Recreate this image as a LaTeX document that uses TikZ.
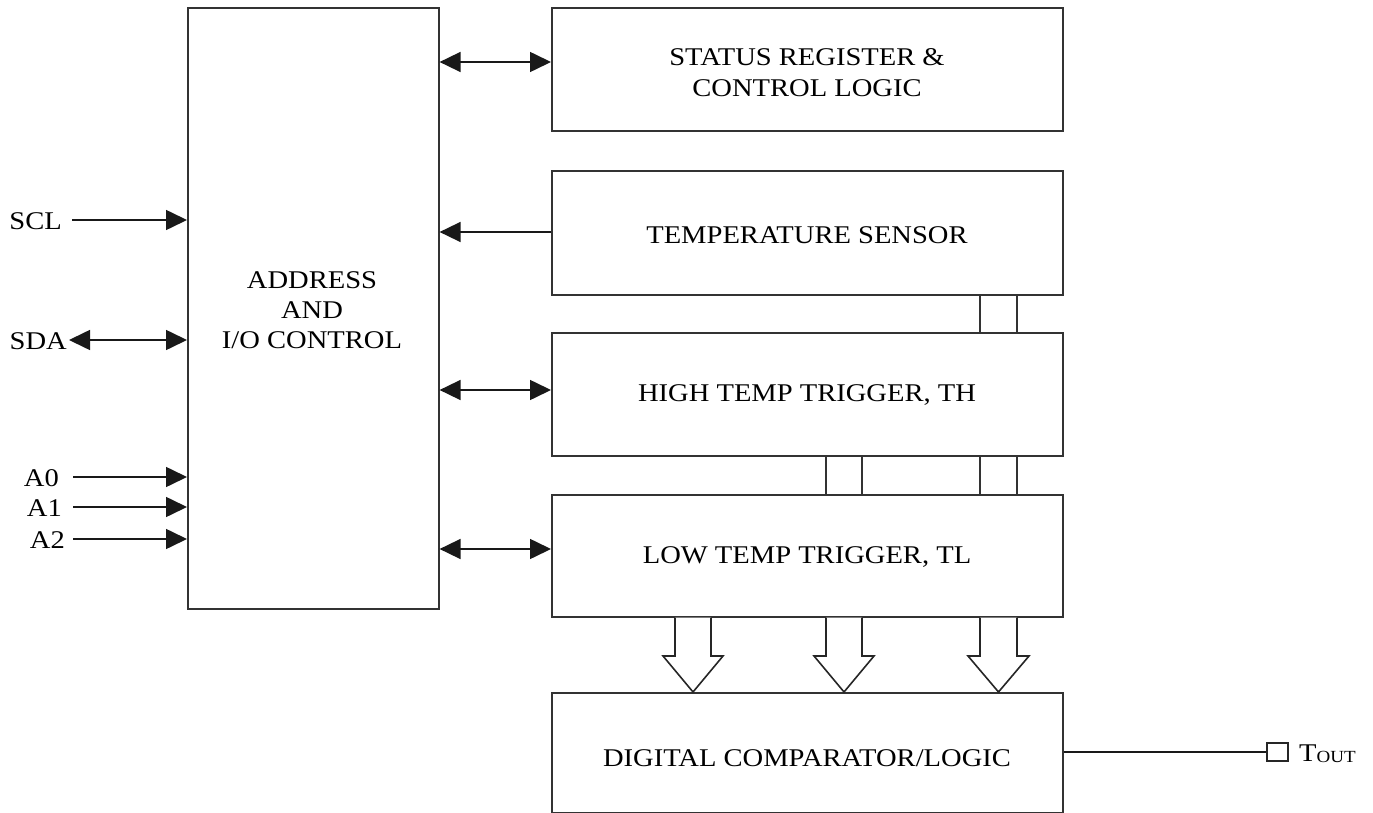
\documentclass[tikz,border=0pt]{standalone}
\usepackage{fontspec}
\setmainfont{Liberation Serif}[FakeStretch=1.12]
\usetikzlibrary{arrows.meta}
\begin{document}
\begin{tikzpicture}[x=1pt,y=-1pt,
  box/.style={draw=black!80,line width=1.6pt,inner sep=0pt,anchor=north west,align=center,
    font=\fontsize{25.5}{29.5}\selectfont},
  txt/.style={align=center,inner sep=0pt,font=\fontsize{25.5}{30}\selectfont},
  lbl/.style={inner sep=0pt,anchor=east,font=\fontsize{25.5}{29.5}\selectfont},
  conn/.style={line width=1.6pt,black!90},
  tip/.style={-{Triangle[length=21pt,width=20pt]}},
  tips/.style={{Triangle[length=21pt,width=20pt]}-{Triangle[length=21pt,width=20pt]}},
  bus/.style={line width=2pt,black!80},
  hollow/.style={draw=black!85,line width=1.6pt,fill=white,line join=miter}]
\useasboundingbox (0,0) rectangle (1373,813);
% boxes
\node[box,minimum width=251pt,minimum height=601pt] (addr) at (187,7) {};
\node[txt] (addrtxt) at (312,310) {ADDRESS\\AND\\I/O CONTROL};
\node[box,minimum width=511pt,minimum height=123pt] (status) at (551,7) {};
\node[txt,font=\fontsize{25.5}{31}\selectfont] (stattxt) at (807,73) {STATUS REGISTER \&\\CONTROL LOGIC};
\node[box,minimum width=511pt,minimum height=124pt] (temp) at (551,170) {};
\node[txt] (temptxt) at (807,235) {TEMPERATURE SENSOR};
\node[box,minimum width=511pt,minimum height=123pt] (high) at (551,332) {};
\node[txt] (hightxt) at (807,395) {HIGH TEMP TRIGGER, TH};
\node[box,minimum width=511pt,minimum height=122pt] (low) at (551,494) {};
\node[txt] (lowtxt) at (807,557) {LOW TEMP TRIGGER, TL};
\node[box,minimum width=511pt,minimum height=120pt] (comp) at (551,692) {};
\node[txt] (comptxt) at (807,758) {DIGITAL COMPARATOR/LOGIC};
% left labels
\node[lbl] (scl) at (62,221) {SCL};
\node[lbl] (sda) at (67,341) {SDA};
\node[lbl] (a0) at (59,478) {A0};
\node[lbl] (a1) at (62,508) {A1};
\node[lbl] (a2) at (65,540) {A2};
% left arrows
\draw[conn,tip] (72,220) coordinate (scls) -- (addr.west |- scls);
\draw[conn,tips] (69,340) coordinate (sdas) -- (addr.west |- sdas);
\draw[conn,tip] (73,477) coordinate (a0s) -- (addr.west |- a0s);
\draw[conn,tip] (73,507) coordinate (a1s) -- (addr.west |- a1s);
\draw[conn,tip] (73,539) coordinate (a2s) -- (addr.west |- a2s);
% right arrows
\draw[conn,tips] (addr.east |- 0,62) -- (status.west |- 0,62);
\draw[conn,tip] (temp.west |- 0,232) -- (addr.east |- 0,232);
\draw[conn,tips] (addr.east |- 0,390) -- (high.west |- 0,390);
\draw[conn,tips] (addr.east |- 0,549) -- (low.west |- 0,549);
% buses
\foreach \x in {980,1017}{\draw[bus] (\x,0 |- temp.south) -- (\x,0 |- high.north);}
\foreach \x in {826,862,980,1017}{\draw[bus] (\x,0 |- high.south) -- (\x,0 |- low.north);}
% hollow arrows
\foreach \l/\r in {675/711,826/862,980/1017}{
  \pgfmathsetmacro{\m}{(\l+\r)/2}
  \draw[hollow] (\l,0 |- low.south) -- (\l,656) -- (\l-12,656) -- (\m,0 |- comp.north)
    -- (\r+12,656) -- (\r,656) -- (\r,0 |- low.south);
}
% output
\node[draw=black!85,line width=1.4pt,minimum width=21pt,minimum height=18pt,inner sep=0pt] (sq) at (1277.5,752) {};
\draw[conn] (comp.east |- sq.west) -- (sq.west);
\node[inner sep=0pt,anchor=west,font=\fontsize{25.5}{29.5}\selectfont] (tout) at (1299,754)
  {T\raisebox{-1pt}{\fontsize{17}{17}\selectfont OUT}};
\end{tikzpicture}
\end{document}
